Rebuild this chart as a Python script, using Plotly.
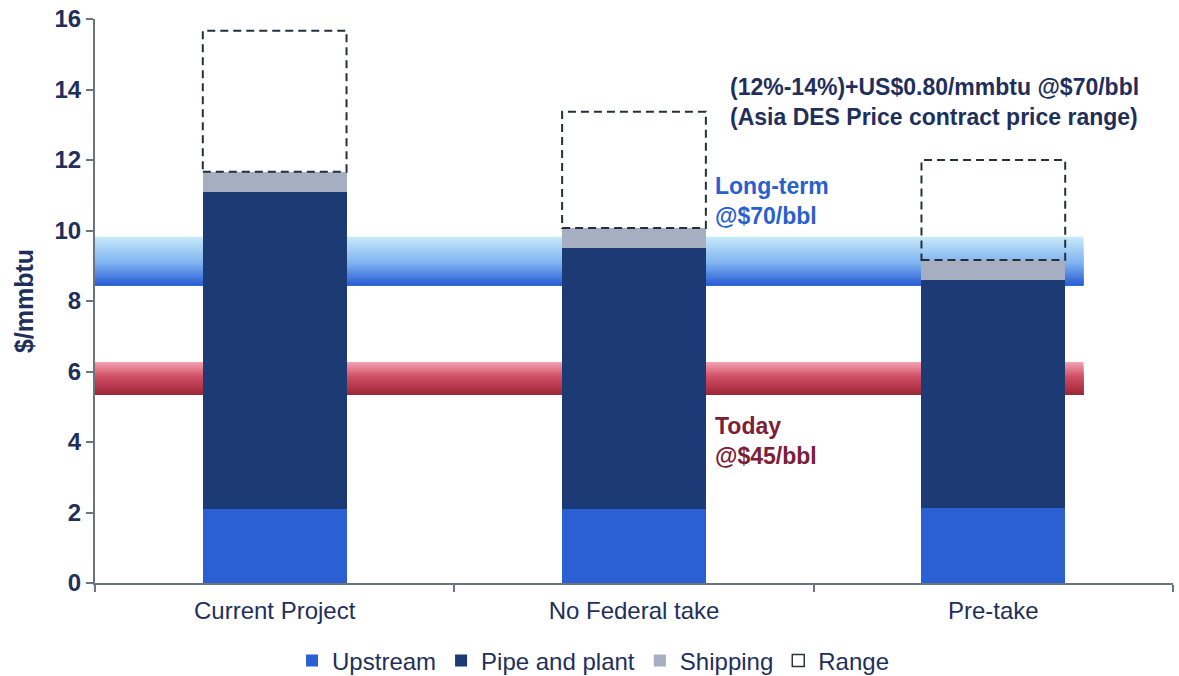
import plotly.graph_objects as go

# ---- data ($/mmbtu) ----
categories = ["Current Project", "No Federal take", "Pre-take"]
upstream = [2.10, 2.10, 2.13]
pipe_and_plant = [9.00, 7.40, 6.47]
shipping = [0.57, 0.57, 0.56]
price_range = [4.00, 3.30, 2.84]

long_term_band = [8.45, 9.82]   # Long-term @$70/bbl
today_band = [5.33, 6.27]       # Today @$45/bbl
band_x_end = 2.25

y_ticks = [0, 2, 4, 6, 8, 10, 12, 14, 16]

NAVY = "#1f2f5c"
FONT = "Liberation Sans, Arial, sans-serif"

fig = go.Figure()

fig.add_bar(name="Upstream", x=categories, y=upstream, marker_color="#2b60d4",
            marker_line_width=0, width=0.4)
fig.add_bar(name="Pipe and plant", x=categories, y=pipe_and_plant, marker_color="#1c3a74",
            marker_line_width=0, width=0.4)
fig.add_bar(name="Shipping", x=categories, y=shipping, marker_color="#a6aec2",
            marker_line_width=0, width=0.4)
# legend entry for the dashed range boxes
fig.add_scatter(name="Range", x=[None], y=[None], mode="markers",
                marker=dict(symbol="square-open", size=12, color="#2a3440",
                            line=dict(width=1.5)))


def lerp_color(c0, c1, t):
    a = [int(c0[i:i + 2], 16) for i in (1, 3, 5)]
    b = [int(c1[i:i + 2], 16) for i in (1, 3, 5)]
    return "rgb(%d,%d,%d)" % tuple(round(a[k] + (b[k] - a[k]) * t) for k in range(3))


def gradient_band(lo, hi, stops, n=40):
    """Band shaded from the top colour down to the bottom colour.

    Each strip runs from the band floor up to its own top edge and is painted
    over the previous one, so no seams show between neighbouring strips."""
    shapes = []
    step = (hi - lo) / n
    for i in range(n):
        t = i / (n - 1)
        if t < stops[1][0]:
            col = lerp_color(stops[0][1], stops[1][1], t / stops[1][0])
        else:
            col = lerp_color(stops[1][1], stops[2][1], (t - stops[1][0]) / (1 - stops[1][0]))
        shapes.append(dict(type="rect", xref="x", yref="y", x0=-0.5, x1=band_x_end,
                           y0=lo, y1=hi - i * step, fillcolor=col, line_width=0,
                           layer="below"))
    return shapes


shapes = []
shapes += gradient_band(long_term_band[0], long_term_band[1],
                        [(0, "#c6e8fa"), (0.55, "#7eb2f0"), (1, "#2a5ed4")])
shapes += gradient_band(today_band[0], today_band[1],
                        [(0, "#f4a0b0"), (0.45, "#cf4e64"), (1, "#9c2636")])

# dashed range boxes sitting on top of each stack
for i, cat in enumerate(categories):
    base = upstream[i] + pipe_and_plant[i] + shipping[i]
    shapes.append(dict(type="rect", xref="x", yref="y", x0=i - 0.2, x1=i + 0.2,
                       y0=base, y1=base + price_range[i], fillcolor="rgba(0,0,0,0)",
                       line=dict(color="#26303a", width=2, dash="8px,5px"), layer="above"))

fig.update_layout(
    barmode="stack",
    width=1179, height=676,
    margin=dict(l=95, r=6, t=19, b=93, autoexpand=False),
    paper_bgcolor="white", plot_bgcolor="white",
    font=dict(family=FONT, color=NAVY, size=24),
    shapes=shapes,
    showlegend=True,
    legend=dict(orientation="h", x=0.462, xanchor="center", y=-0.138, yanchor="middle",
                font=dict(size=24, color=NAVY), itemwidth=30, tracegroupgap=0,
                traceorder="normal", itemclick=False),
    xaxis=dict(range=[-0.5, 2.5], showgrid=False, showline=True, linecolor="#6b7580",
               linewidth=2, ticks="outside", tickson="boundaries", ticklen=7,
               tickcolor="#6b7580", tickwidth=2, tickfont=dict(size=24, color=NAVY),
               ticklabelstandoff=5, automargin=False),
    yaxis=dict(range=[0, 16], tickvals=y_ticks, showgrid=False, zeroline=False,
               showline=True, linecolor="#6b7580", linewidth=2, ticks="outside",
               ticklen=7, tickcolor="#6b7580", tickwidth=2,
               tickfont=dict(size=24, color=NAVY, weight="bold"), automargin=False,
               title=dict(text="$/mmbtu", font=dict(size=25, color=NAVY, weight="bold"),
                          standoff=14)),
    bargap=0.6,
)

ann_font = dict(family=FONT, size=23, weight="bold")
fig.add_annotation(x=1.262, y=13.65, xref="x", yref="y", xanchor="left", yanchor="middle",
                   text="(12%-14%)+US$0.80/mmbtu @$70/bbl<br>(Asia DES Price contract price range)",
                   showarrow=False, align="left", font=dict(color=NAVY, **ann_font))
fig.add_annotation(x=1.22, y=10.84, xref="x", yref="y", xanchor="left", yanchor="middle",
                   text="Long-term<br>@$70/bbl", showarrow=False, align="left",
                   font=dict(color="#2a5fd0", **ann_font))
fig.add_annotation(x=1.22, y=4.03, xref="x", yref="y", xanchor="left", yanchor="middle",
                   text="Today<br>@$45/bbl", showarrow=False, align="left",
                   font=dict(color="#7c2036", **ann_font))

fig.write_html("out.html")
